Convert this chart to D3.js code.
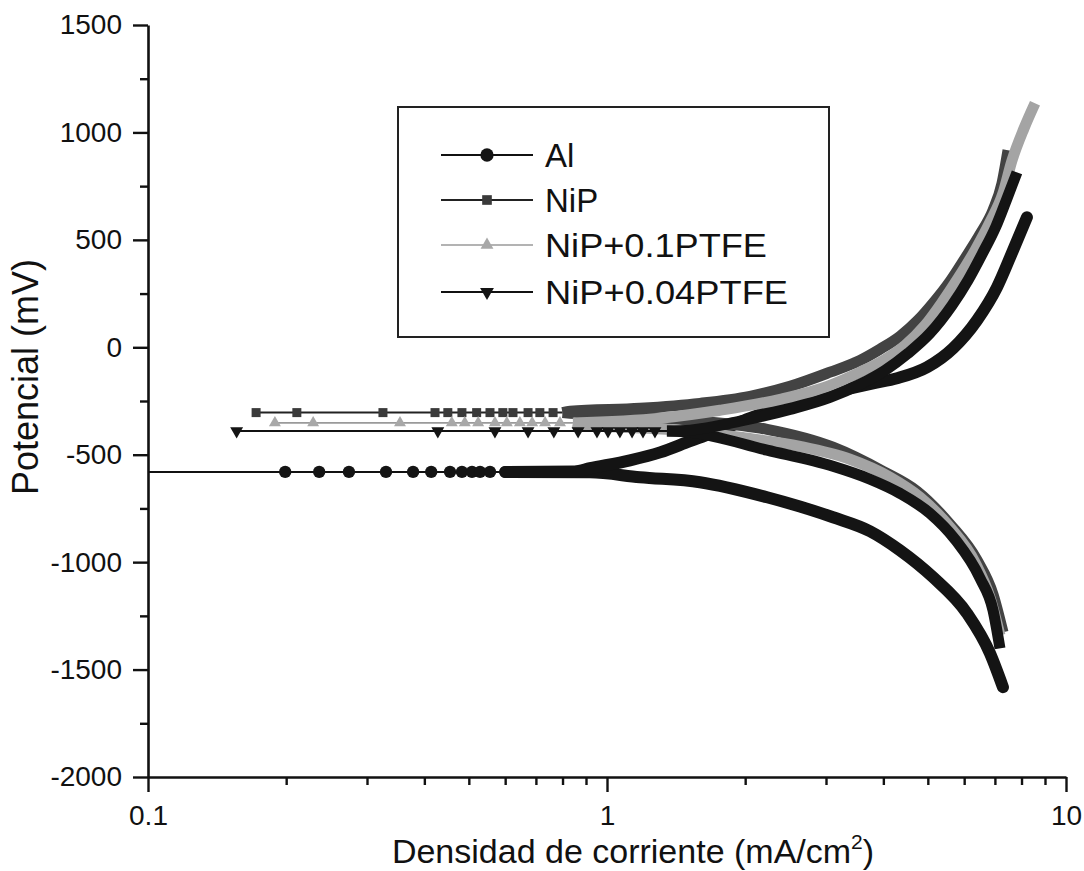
<!DOCTYPE html>
<html>
<head>
<meta charset="utf-8">
<script src="https://cdn.jsdelivr.net/npm/d3@7"></script>
<style>
  html, body { margin: 0; padding: 0; background: #fff; }
  svg { display: block; font-family: "Liberation Sans", Arial, sans-serif; }
</style>
</head>
<body>
<svg id="chart" width="1084" height="871"></svg>
<script>
// Potentiodynamic polarization curves: potential (mV) vs current density (mA/cm2)
const seriesNames = ["Al", "NiP", "NiP+0.1PTFE", "NiP+0.04PTFE"];
const ecorr = [-580, -304, -352, -390];   // corrosion potential of each coating, mV

const yMajorTicks = [-2000, -1500, -1000, -500, 0, 500, 1000, 1500];
const yMinorTicks = [-1750, -1250, -750, -250, 250, 750, 1250];
const xMajorTicks = [0.1, 1, 10];
const xTickLabels = ["0.1", "1", "10"];
const xMinorTicks = [0.2, 0.3, 0.4, 0.5, 0.6, 0.7, 0.8, 0.9, 2, 3, 4, 5, 6, 7, 8, 9];

// Low-current points recorded at the corrosion potential (mA/cm2)
const alPlateau = [0.09, 0.199, 0.236, 0.274, 0.330, 0.378, 0.414, 0.455, 0.483, 0.508, 0.529, 0.556];
const nipPlateau = [0.172, 0.211, 0.325, 0.422, 0.450, 0.483, 0.520, 0.556, 0.593, 0.624, 0.673, 0.714, 0.763];
const ptfe01Plateau = [0.189, 0.229, 0.354, 0.459, 0.490, 0.524, 0.570, 0.605, 0.646, 0.687, 0.733, 0.790];
const ptfe004Plateau = [0.156, 0.428, 0.570, 0.673, 0.766, 0.865, 0.951, 1.005, 1.067, 1.134, 1.198, 1.272];

// Anodic branches [current density, potential]
const alAnodic = [[0.60, -580], [0.85, -578], [0.918, -563], [1.122, -526], [1.305, -489], [1.516, -437],
  [1.763, -386], [2.049, -330], [2.383, -279], [2.811, -233], [3.334, -195], [3.797, -168], [4.284, -144],
  [4.98, -93], [5.673, -5], [6.40, 126], [7.073, 279], [7.666, 451], [8.22, 605]];
const nipAnodic = [[0.80, -304], [0.831, -298], [1.18, -284], [1.594, -261], [2.049, -228], [2.504, -182],
  [3.061, -116], [3.558, -61], [3.933, -9], [4.349, 51], [4.76, 126], [5.131, 205], [5.589, 307],
  [6.026, 414], [6.497, 526], [6.934, 638], [7.253, 763], [7.475, 917]];
const ptfe01Anodic = [[0.843, -352], [1.305, -330], [1.763, -293], [2.383, -242], [3.061, -177],
  [3.558, -116], [4.034, -56], [4.459, 9], [4.93, 102], [5.369, 209], [5.818, 321], [6.336, 451],
  [6.829, 582], [7.289, 717], [7.628, 870], [8.10, 1019], [8.56, 1136]];
const ptfe004Anodic = [[1.351, -390], [1.516, -386], [1.949, -344], [2.504, -289], [3.061, -233],
  [3.558, -172], [4.034, -107], [4.528, -28], [5.054, 65], [5.645, 195], [6.117, 312], [6.562, 433],
  [7.038, 563], [7.438, 693], [7.82, 814]];

// Cathodic branches [current density, potential]
const alCathodic = [[0.60, -580], [0.918, -582], [1.18, -605], [1.594, -628], [2.232, -698], [3.107, -791],
  [3.741, -856], [4.349, -945], [5.131, -1070], [6.086, -1238], [6.829, -1424], [7.289, -1582]];
const nipCathodic = [[0.80, -304], [0.831, -307], [1.241, -326], [1.594, -344], [2.232, -382], [3.107, -465],
  [3.993, -577], [4.736, -670], [5.589, -824], [6.40, -991], [6.934, -1150], [7.289, -1326]];
const ptfe01Cathodic = [[0.843, -352], [0.873, -358], [1.442, -386], [1.949, -419], [2.634, -461],
  [3.384, -521], [4.137, -605], [4.808, -698], [5.589, -838], [6.336, -1001], [6.829, -1164], [7.18, -1340]];
const ptfe004Cathodic = [[1.351, -390], [1.516, -396], [2.232, -479], [3.107, -554], [3.741, -614],
  [4.349, -680], [5.054, -773], [5.731, -894], [6.497, -1075], [6.934, -1224], [7.18, -1401]];

const series = [
  { plateau: alPlateau, anodic: alAnodic, cathodic: alCathodic,
    lineColor: "#111", bandColor: "#141414", markFill: "#141414", lineWidth: 2,
    symbol: d3.symbolCircle, size: 120, rot: 0, band: 12, cap: "round" },
  { plateau: nipPlateau, anodic: nipAnodic, cathodic: nipCathodic,
    lineColor: "#222", bandColor: "#434343", markFill: "#3a3a3a", lineWidth: 2,
    symbol: d3.symbolSquare, size: 81, rot: 0, band: 11, cap: "butt" },
  { plateau: ptfe01Plateau, anodic: ptfe01Anodic, cathodic: ptfe01Cathodic,
    lineColor: "#9a9a9a", bandColor: "#a4a4a4", markFill: "#a8a8a8", lineWidth: 1.6,
    symbol: d3.symbolTriangle, size: 62, rot: 0, band: 11, cap: "butt" },
  { plateau: ptfe004Plateau, anodic: ptfe004Anodic, cathodic: ptfe004Cathodic,
    lineColor: "#111", bandColor: "#141414", markFill: "#141414", lineWidth: 2,
    symbol: d3.symbolTriangle, size: 72, rot: 180, band: 11, cap: "butt" }
].map((s, k) => Object.assign(s, { name: seriesNames[k], ecorr: ecorr[k] }));

const svg = d3.select("#chart");
const x = d3.scaleLog().domain([0.1, 10]).range([148, 1066]);
const y = d3.scaleLinear().domain([-2000, 1500]).range([777, 25]);

svg.append("defs").append("clipPath").attr("id", "plotArea")
  .append("rect").attr("x", 149).attr("y", 0).attr("width", 935).attr("height", 776);

const plot = svg.append("g").attr("clip-path", "url(#plotArea)");
const straight = d3.line().x(d => x(d[0])).y(d => y(d[1]));
const smooth = d3.line().x(d => x(d[0])).y(d => y(d[1])).curve(d3.curveMonotoneX);

series.forEach(s => {
  const g = plot.append("g");
  const flat = s.plateau.map(i => [i, s.ecorr]).concat([[s.anodic[0][0], s.ecorr]]);
  g.append("path").attr("d", straight(flat))
    .attr("fill", "none").attr("stroke", s.lineColor).attr("stroke-width", s.lineWidth);
  [s.cathodic, s.anodic].forEach(branch => {
    g.append("path").attr("d", smooth(branch))
      .attr("fill", "none").attr("stroke", s.bandColor)
      .attr("stroke-width", s.band).attr("stroke-linecap", s.cap).attr("stroke-linejoin", "round");
  });
  g.selectAll("path.mark").data(s.plateau).enter().append("path")
    .attr("class", "mark")
    .attr("d", d3.symbol(s.symbol, s.size))
    .attr("transform", i => `translate(${x(i)},${y(s.ecorr)}) rotate(${s.rot})`)
    .attr("fill", s.markFill);
});

// Axes
const axisColor = "#111";
function styleAxis(g) {
  g.selectAll("path.domain").attr("stroke", axisColor).attr("stroke-width", 2.6);
  g.selectAll(".tick line").attr("stroke", axisColor).attr("stroke-width", 2.4);
  g.selectAll(".tick text").attr("fill", "#111").style("font-size", "28px")
    .style("font-family", '"Liberation Sans", Arial, sans-serif');
}

svg.append("g").attr("transform", "translate(148,0)")
  .call(d3.axisLeft(y).tickValues(yMinorTicks).tickSize(8).tickFormat(""))
  .call(g => g.select(".domain").remove())
  .call(styleAxis);
svg.append("g").attr("transform", "translate(148,0)")
  .call(d3.axisLeft(y).tickValues(yMajorTicks).tickSize(15).tickSizeOuter(0).tickPadding(11)
    .tickFormat(d => d))
  .call(styleAxis);

svg.append("g").attr("transform", "translate(0,777)")
  .call(d3.axisBottom(x).tickValues(xMinorTicks).tickSize(8).tickFormat(""))
  .call(g => g.select(".domain").remove())
  .call(styleAxis);
svg.append("g").attr("transform", "translate(0,777)")
  .call(d3.axisBottom(x).tickValues(xMajorTicks).tickSize(15).tickSizeOuter(0).tickPadding(13)
    .tickFormat((d, i) => xTickLabels[i]))
  .call(styleAxis);

// Axis titles
svg.append("text")
  .attr("transform", "translate(38,377) rotate(-90)")
  .attr("text-anchor", "middle").attr("fill", "#111").style("font-size", "36px")
  .text("Potencial (mV)");

const xt = svg.append("text")
  .attr("x", 633).attr("y", 863).attr("text-anchor", "middle")
  .attr("fill", "#111").style("font-size", "34px");
xt.append("tspan").text("Densidad de corriente (mA/cm");
xt.append("tspan").attr("dy", -14).style("font-size", "21px").text("2");
xt.append("tspan").attr("dy", 14).text(")");

// Legend
const legend = svg.append("g");
legend.append("rect").attr("x", 398).attr("y", 107).attr("width", 431).attr("height", 230)
  .attr("fill", "#fff").attr("stroke", "#222").attr("stroke-width", 2);
const rowY = [155, 200, 245, 292];
const labelWidth = [null, null, 222, 243];
series.forEach((s, k) => {
  const ry = rowY[k];
  legend.append("line").attr("x1", 441).attr("x2", 533).attr("y1", ry).attr("y2", ry)
    .attr("stroke", s.lineColor).attr("stroke-width", s.lineWidth);
  legend.append("path").attr("d", d3.symbol(s.symbol, s.size * 1.15))
    .attr("transform", `translate(487,${ry}) rotate(${s.rot})`).attr("fill", s.markFill);
  const t = legend.append("text").attr("x", 545).attr("y", ry + 12)
    .attr("fill", "#111").style("font-size", "33px").text(s.name);
  if (labelWidth[k]) t.attr("textLength", labelWidth[k]).attr("lengthAdjust", "spacingAndGlyphs");
});
</script>
</body>
</html>
